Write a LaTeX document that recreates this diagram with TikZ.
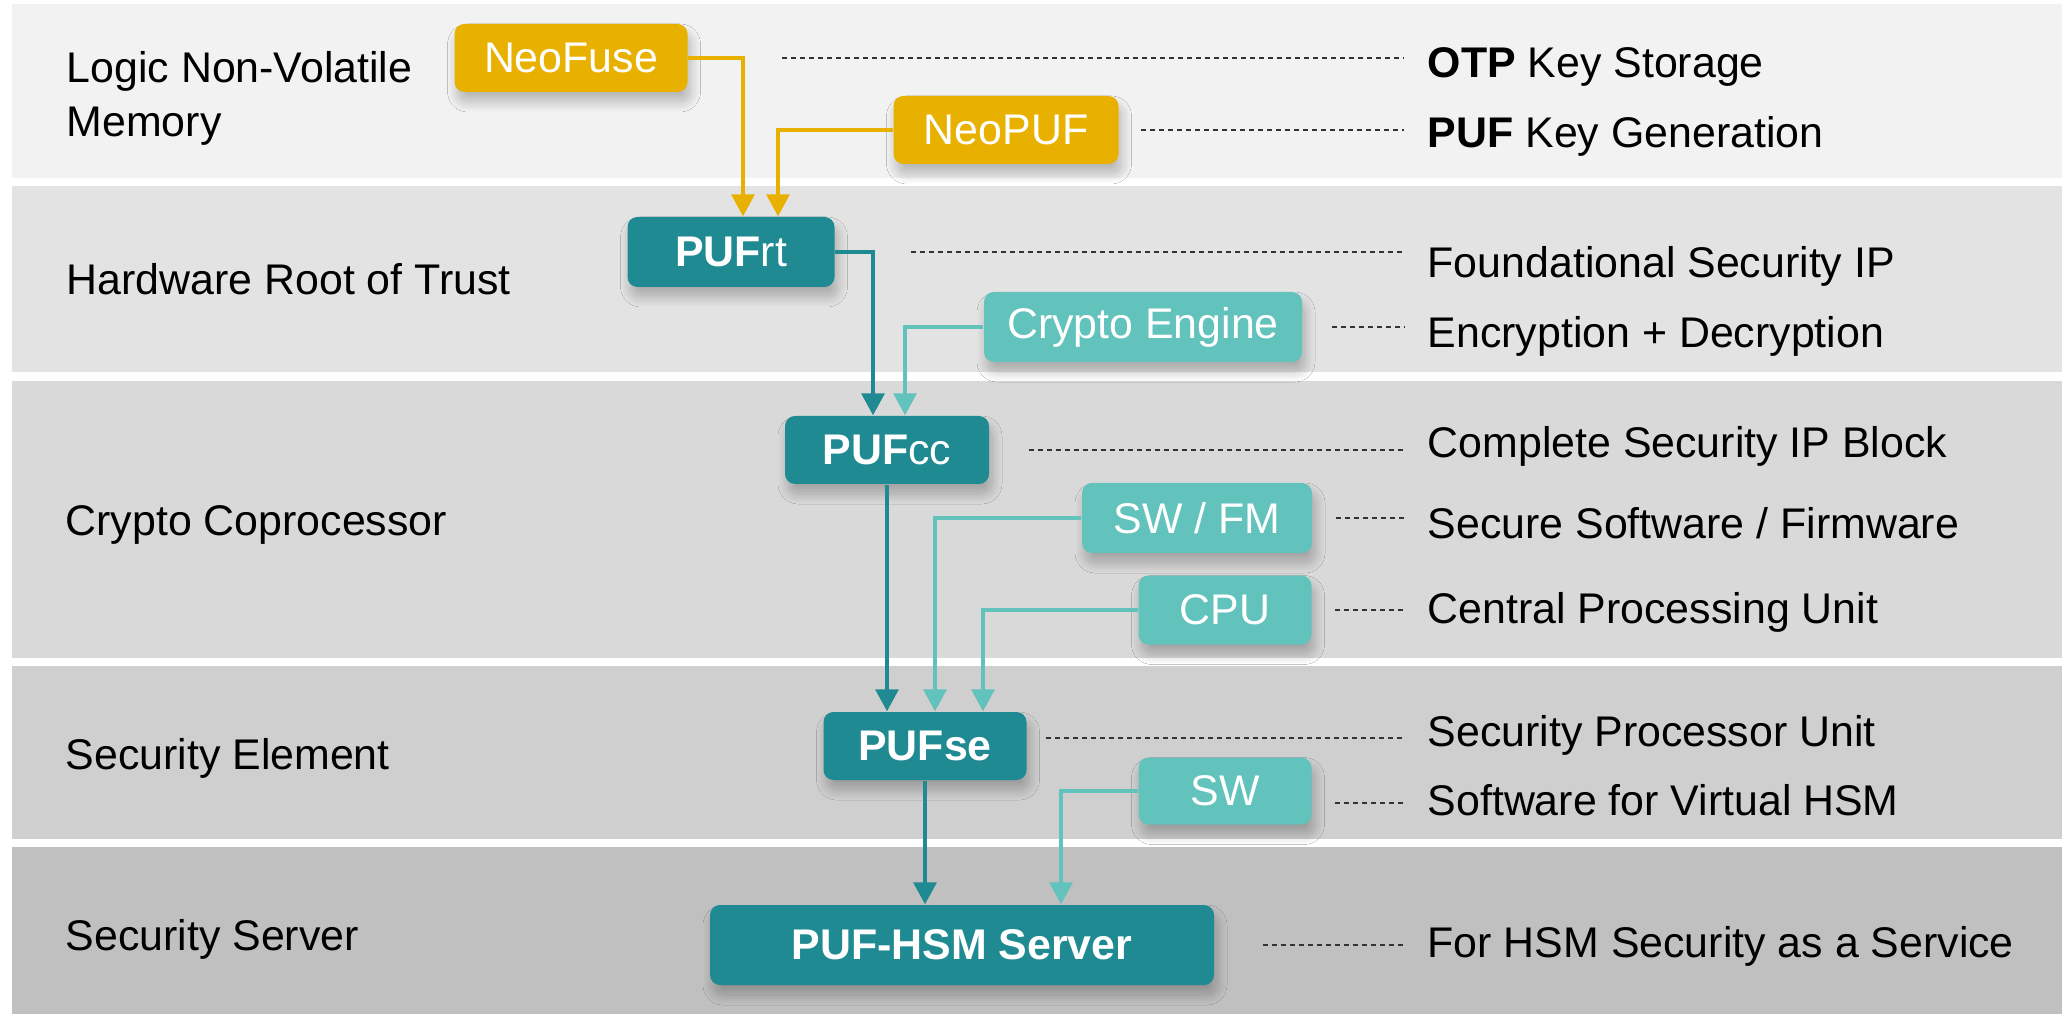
\documentclass[tikz,border=0pt]{standalone}
\usepackage{fontspec}
\setmainfont{Liberation Sans}
\usetikzlibrary{arrows.meta,shadows.blur}
\definecolor{neogold}{HTML}{E8B100}
\definecolor{pufdark}{HTML}{1F8A91}
\definecolor{puflight}{HTML}{62C2BC}
\definecolor{bandA}{HTML}{F2F2F2}
\definecolor{bandB}{HTML}{E3E3E3}
\definecolor{bandC}{HTML}{D9D9D9}
\definecolor{bandD}{HTML}{CFCFCF}
\definecolor{bandE}{HTML}{C0C0C0}
\tikzset{box/.style={rectangle,rounded corners=1mm,text=white,inner sep=0pt,
			blur shadow={shadow xshift=0.3mm,shadow yshift=-1mm,shadow opacity=25,shadow blur radius=1mm,shadow blur steps=12}},
		fuse/.style={box,fill=neogold},
		core/.style={box,fill=pufdark},
		addon/.style={box,fill=puflight},
		feed/.style={-{Triangle[length=2.2mm,width=2.3mm]},line width=0.33mm},
		leader/.style={dash pattern=on 0.5mm off 0.4mm,line width=0.2mm,black!80},
		layer/.style={anchor=west,inner sep=0pt,text height=3.1mm,text depth=0pt},
		role/.style={anchor=west,inner sep=0pt,text height=3.1mm,text depth=0pt}}

\begin{document}
\begin{tikzpicture}[x=1cm,y=-1cm,font=\fontsize{12.2}{14.6}\selectfont]
		\useasboundingbox[fill=white] (0,0) rectangle (20.62,10.14);
		% layers
		\fill[bandA] (0.12,0.04) rectangle (20.62,1.78);
		\fill[bandB] (0.12,1.86) rectangle (20.62,3.72);
		\fill[bandC] (0.12,3.81) rectangle (20.62,6.58);
		\fill[bandD] (0.12,6.66) rectangle (20.62,8.39);
		\fill[bandE] (0.12,8.47) rectangle (20.62,10.14);
		\node[anchor=base west,inner sep=0pt,align=left,font=\fontsize{12.2}{15.6}\selectfont] (lnvm) at (0.66,1.37) {Logic Non-Volatile\\Memory};
		\node[layer] (hrot) at (0.66,2.79) {Hardware Root of Trust};
		\node[layer] (copro) at (0.65,5.20) {Crypto Coprocessor};
		\node[layer] (secel) at (0.65,7.54) {Security Element};
		\node[layer] (secsrv) at (0.65,9.35) {Security Server};

		\node[fuse,minimum width=2.33cm,minimum height=0.68cm] (neofuse) at (5.71,0.58) {NeoFuse};
		\node[fuse,minimum width=2.25cm,minimum height=0.68cm] (neopuf) at (10.06,1.30) {NeoPUF};
		\node[core,minimum width=2.07cm,minimum height=0.70cm] (pufrt) at (7.31,2.52) {\textbf{PUF}rt};
		\node[addon,minimum width=3.18cm,minimum height=0.70cm] (crypto) at (11.43,3.27) {Crypto Engine};
		\node[core,minimum width=2.04cm,minimum height=0.68cm] (pufcc) at (8.87,4.50) {\textbf{PUF}cc};
		\node[addon,minimum width=2.30cm,minimum height=0.70cm] (swfm) at (11.97,5.18) {SW / FM};
		\node[addon,minimum width=1.73cm,minimum height=0.69cm] (cpu) at (12.25,6.10) {CPU};
		\node[core,minimum width=2.03cm,minimum height=0.68cm] (pufse) at (9.25,7.46) {\textbf{PUFse}};
		\node[addon,minimum width=1.73cm,minimum height=0.67cm] (sw) at (12.25,7.91) {SW};
		\node[core,minimum width=5.04cm,minimum height=0.80cm] (server) at (9.62,9.45) {\textbf{PUF-HSM Server}};

		\draw[feed,neogold] (neofuse.east) -| ([xshift=1.2mm]pufrt.north);
		\draw[feed,neogold] (neopuf.west) -| ([xshift=4.7mm]pufrt.north);
		\draw[feed,pufdark] (pufrt.east) -| ([xshift=-1.4mm]pufcc.north);
		\draw[feed,puflight] (crypto.west) -| ([xshift=1.8mm]pufcc.north);
		\draw[feed,pufdark] (pufcc.south) -- (pufcc.south |- pufse.north);
		\draw[feed,puflight] (swfm.west) -| ([xshift=1mm]pufse.north);
		\draw[feed,puflight] (cpu.west) -| ([xshift=5.8mm]pufse.north);
		\draw[feed,pufdark] (pufse.south) -- (pufse.south |- server.north);
		\draw[feed,puflight] (sw.west) -| ([xshift=9.9mm]server.north);

		\node[role] (otp) at (14.27,0.62) {\textbf{OTP} Key Storage};
		\node[role] (keygen) at (14.27,1.32) {\textbf{PUF} Key Generation};
		\node[role] (found) at (14.27,2.62) {Foundational Security IP};
		\node[role] (encdec) at (14.27,3.32) {Encryption + Decryption};
		\node[role] (complete) at (14.27,4.42) {Complete Security IP Block};
		\node[role] (securesw) at (14.27,5.23) {Secure Software / Firmware};
		\node[role] (cpuunit) at (14.27,6.08) {Central Processing Unit};
		\node[role] (spu) at (14.27,7.31) {Security Processor Unit};
		\node[role] (vhsm) at (14.27,8.00) {Software for Virtual HSM};
		\node[role] (saas) at (14.27,9.42) {For HSM Security as a Service};

		\draw[leader] ([xshift=9.4mm]neofuse.east) -- ([xshift=-2.3mm]neofuse.east -| otp.west);
		\draw[leader] ([xshift=2.2mm]neopuf.east) -- ([xshift=-2.3mm]neopuf.east -| keygen.west);
		\draw[leader] ([xshift=7.6mm]pufrt.east) -- ([xshift=-2.3mm]pufrt.east -| found.west);
		\draw[leader] ([xshift=2.9mm]crypto.east) -- ([xshift=-2.3mm]crypto.east -| encdec.west);
		\draw[leader] ([xshift=3.9mm]pufcc.east) -- ([xshift=-2.3mm]pufcc.east -| complete.west);
		\draw[leader] ([xshift=2.3mm]swfm.east) -- ([xshift=-2.3mm]swfm.east -| securesw.west);
		\draw[leader] ([xshift=2.3mm]cpu.east) -- ([xshift=-2.3mm]cpu.east -| cpuunit.west);
		\draw[leader] ([xshift=1.9mm,yshift=0.8mm]pufse.east) -- ([xshift=-2.3mm,yshift=0.8mm]pufse.east -| spu.west);
		\draw[leader] ([xshift=2.3mm,yshift=-1.2mm]sw.east) -- ([xshift=-2.3mm,yshift=-1.2mm]sw.east -| vhsm.west);
		\draw[leader] ([xshift=4.8mm]server.east) -- ([xshift=-2.3mm]server.east -| saas.west);

	\end{tikzpicture}
\end{document}
